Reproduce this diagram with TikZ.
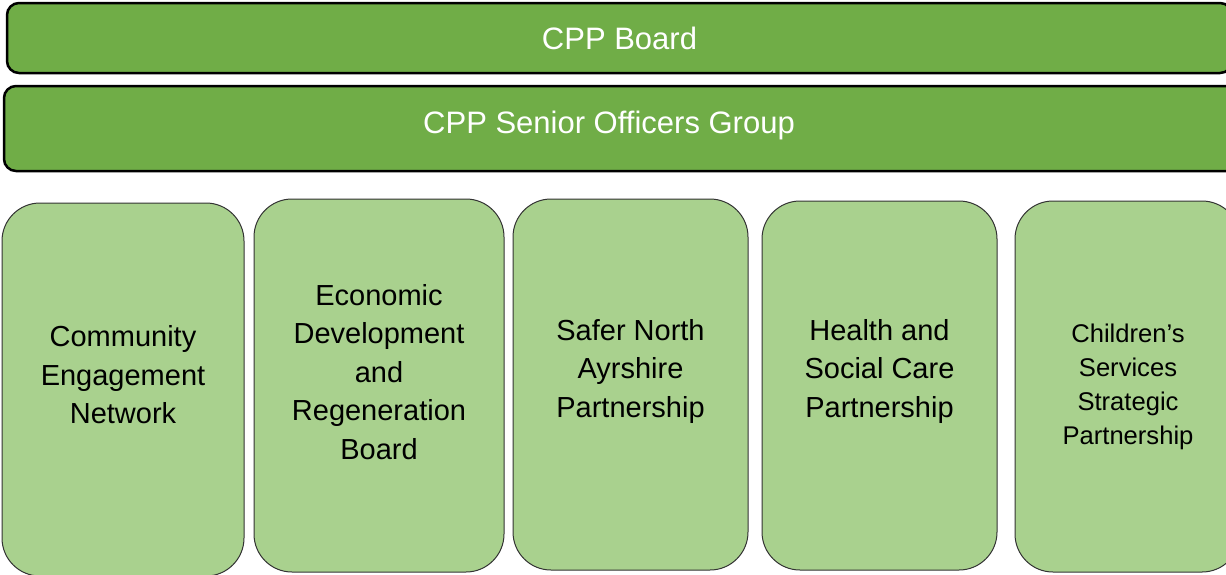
\documentclass[tikz,border=0pt]{standalone}
\usepackage{fontspec}
\setmainfont{Liberation Sans}
\usetikzlibrary{positioning}
\definecolor{bargreen}{HTML}{70AD47}
\definecolor{panelgreen}{HTML}{A9D18E}
\tikzset{
  bar/.style={draw=black, line width=2.5pt, fill=bargreen, rounded corners=12pt,
    text=white, font=\fontsize{31}{38}\selectfont, inner sep=0pt},
  bartext/.style={text=white, font=\fontsize{31}{38}\selectfont, inner sep=0pt},
  panel/.style={draw=black!80, line width=1pt, fill=panelgreen, rounded corners=38pt, inner sep=0pt},
  paneltext/.style={align=center, font=\fontsize{29}{38.5}\selectfont, inner sep=0pt},
  smalltext/.style={align=center, font=\fontsize{25.6}{34}\selectfont, inner sep=0pt}
}
\begin{document}
\begin{tikzpicture}[x=1pt,y=-1pt]
	\useasboundingbox (0,0) rectangle (1226,574);

	%% The two bars across the top
	\node at (619.5,38) [bar, minimum width=1225pt, minimum height=70pt] (board) {CPP Board};
	\node at (622,128.5) [bar, minimum width=1236pt, minimum height=85pt] (officers) {};
	\node at (609,125) [bartext] (officerstext) {CPP Senior Officers Group};

	%% The five partnership panels
	\node at (123,389.5) [panel, minimum width=242pt, minimum height=373pt] (community) {};
	\node at (379,385.5) [panel, minimum width=250pt, minimum height=373pt] (economic) {};
	\node at (630.5,384.5) [panel, minimum width=235pt, minimum height=371pt] (safer) {};
	\node at (879.5,385.5) [panel, minimum width=235pt, minimum height=369pt] (health) {};
	\node at (1127.5,386.5) [panel, minimum width=225pt, minimum height=371pt] (children) {};

	%% Their texts -- set a little above the middle
	\node at (123,375) [paneltext] (communitytext) {Community\\Engagement\\Network};
	\node at (379,372) [paneltext] (economictext) {Economic\\Development\\and\\Regeneration\\Board};
	\node at (630.5,371) [paneltext] (safertext) {Safer North\\Ayrshire\\Partnership};
	\node at (879.5,371) [paneltext] (healthtext) {Health and\\Social Care\\Partnership};
	\node at (1128,387) [smalltext] (childrentext) {Children’s\\Services\\Strategic\\Partnership};
\end{tikzpicture}
\end{document}
